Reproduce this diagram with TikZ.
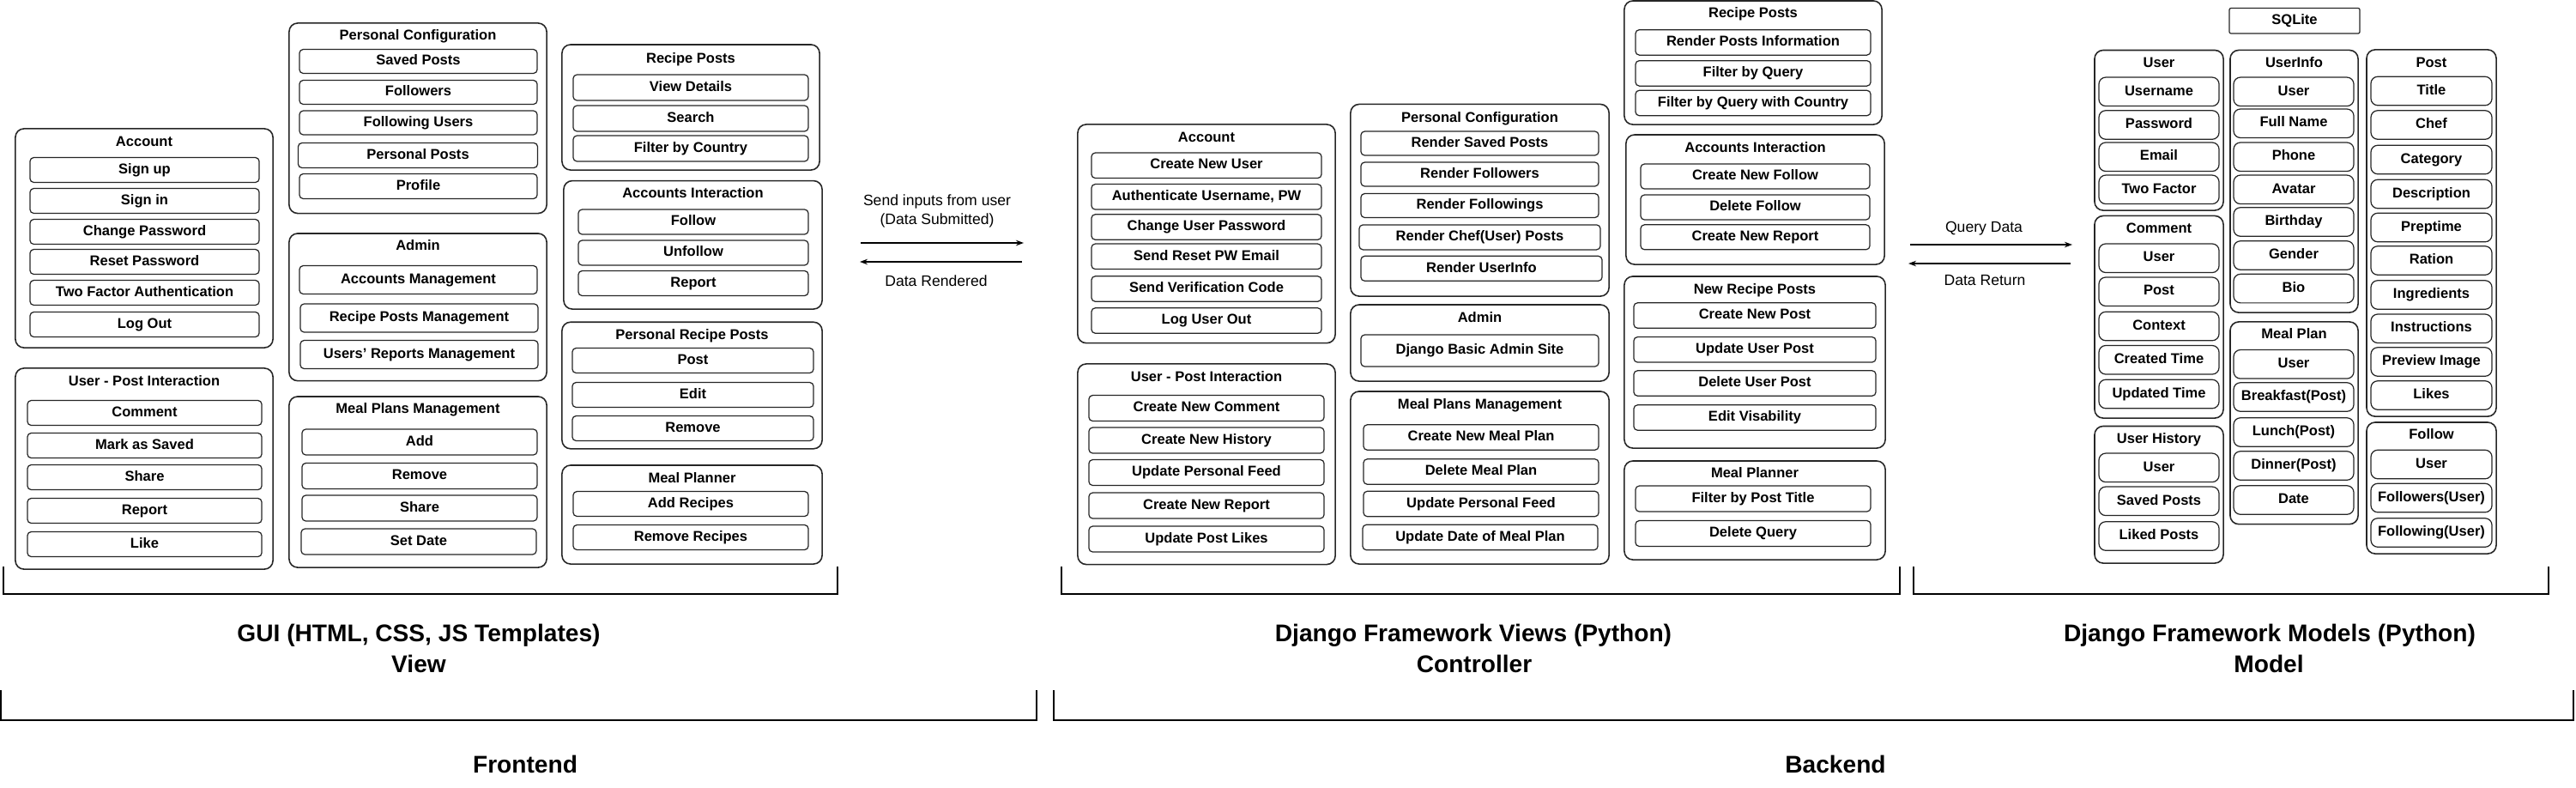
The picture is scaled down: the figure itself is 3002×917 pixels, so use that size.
\documentclass[tikz,border=0pt]{standalone}
\usepackage{fontspec}
\setmainfont{Liberation Sans}
\usetikzlibrary{arrows.meta}
\begin{document}
\begin{tikzpicture}[x=0.01cm,y=-0.01cm]
	\tikzstyle{every node}+=[inner sep=0pt]
	\tikzstyle{grp}=[draw=black!85, line width=0.45pt, rounded corners=0.1cm]
	\tikzstyle{itm}=[draw=black!85, line width=0.35pt, rounded corners=0.045cm, minimum height=0.29cm, text height=3.4pt, text depth=1pt, font=\fontsize{4.7}{5.6}\selectfont\bfseries]
	\tikzstyle{fld}=[itm, rounded corners=0.08cm, minimum height=0.335cm]
	\tikzstyle{ttl}=[text height=3.4pt, text depth=1pt, font=\fontsize{4.7}{5.6}\selectfont\bfseries]
	\tikzstyle{lbl}=[font=\fontsize{5}{6}\selectfont]
	\tikzstyle{big}=[font=\fontsize{8}{9.6}\selectfont\bfseries]
	\tikzstyle{brk}=[line width=0.6pt]
	\tikzstyle{flow}=[line width=0.35pt, -{Stealth[length=0.09cm,width=0.065cm]}]
	\useasboundingbox (0,0) rectangle (3002,917);
	% View
	\node [grp, minimum width=3cm, minimum height=2.55cm] (vAcc) at (168,277.5) {};
	\node [ttl] (vAccT) at (168,166) {Account};
	\node [itm, minimum width=2.67cm] (vAcc1) at (168.5,198) {Sign up};
	\node [itm, minimum width=2.67cm] (vAcc2) at (168.5,234) {Sign in};
	\node [itm, minimum width=2.67cm] (vAcc3) at (168.5,270) {Change Password};
	\node [itm, minimum width=2.67cm] (vAcc4) at (168.5,305) {Reset Password};
	\node [itm, minimum width=2.67cm] (vAcc5) at (168.5,341) {Two Factor Authentication};
	\node [itm, minimum width=2.67cm] (vAcc6) at (168.5,378) {Log Out};
	\node [grp, minimum width=3cm, minimum height=2.34cm] (vUpi) at (168,546) {};
	\node [ttl] (vUpiT) at (168,445) {User - Post Interaction};
	\node [itm, minimum width=2.73cm] (vUpi1) at (168.5,481) {Comment};
	\node [itm, minimum width=2.73cm] (vUpi2) at (168.5,519) {Mark as Saved};
	\node [itm, minimum width=2.73cm] (vUpi3) at (168.5,556) {Share};
	\node [itm, minimum width=2.73cm] (vUpi4) at (168.5,595) {Report};
	\node [itm, minimum width=2.73cm] (vUpi5) at (168.5,634) {Like};
	\node [grp, minimum width=3cm, minimum height=2.215cm] (vPc) at (487,137.75) {};
	\node [ttl] (vPcT) at (487,42) {Personal Configuration};
	\node [itm, minimum width=2.77cm, minimum height=0.28cm] (vPc1) at (487.5,71.5) {Saved Posts};
	\node [itm, minimum width=2.77cm, minimum height=0.28cm] (vPc2) at (487.5,107.5) {Followers};
	\node [itm, minimum width=2.77cm, minimum height=0.28cm] (vPc3) at (487.5,143) {Following Users};
	\node [itm, minimum width=2.79cm, minimum height=0.29cm] (vPc4) at (487,181) {Personal Posts};
	\node [itm, minimum width=2.77cm, minimum height=0.29cm] (vPc5) at (487.5,217) {Profile};
	\node [grp, minimum width=3cm, minimum height=1.716cm] (vAdm) at (487,357.8) {};
	\node [ttl] (vAdmT) at (487,287.5) {Admin};
	\node [itm, minimum width=2.77cm, minimum height=0.33cm] (vAdm1) at (487.5,326) {Accounts Management};
	\node [itm, minimum width=2.77cm, minimum height=0.33cm] (vAdm2) at (488.5,370.5) {Recipe Posts Management};
	\node [itm, minimum width=2.77cm, minimum height=0.33cm] (vAdm3) at (488.5,413) {Users' Reports Management};
	\node [grp, minimum width=3cm, minimum height=1.99cm] (vMpm) at (487,561.5) {};
	\node [ttl] (vMpmT) at (487,477) {Meal Plans Management};
	\node [itm, minimum width=2.74cm, minimum height=0.3cm] (vMpm1) at (489,515) {Add};
	\node [itm, minimum width=2.74cm, minimum height=0.3cm] (vMpm2) at (489,554.5) {Remove};
	\node [itm, minimum width=2.74cm, minimum height=0.3cm] (vMpm3) at (489,592) {Share};
	\node [itm, minimum width=2.74cm, minimum height=0.3cm] (vMpm4) at (488,631) {Set Date};
	\node [grp, minimum width=3cm, minimum height=1.46cm] (vRp) at (805,125) {};
	\node [ttl] (vRpT) at (805,69) {Recipe Posts};
	\node [itm, minimum width=2.74cm, minimum height=0.3cm] (vRp1) at (805,102) {View Details};
	\node [itm, minimum width=2.74cm, minimum height=0.3cm] (vRp2) at (805,138) {Search};
	\node [itm, minimum width=2.74cm, minimum height=0.3cm] (vRp3) at (805,173) {Filter by Country};
	\node [grp, minimum width=3.01cm, minimum height=1.494cm] (vAi) at (807.5,285.3) {};
	\node [ttl] (vAiT) at (807.5,226) {Accounts Interaction};
	\node [itm, minimum width=2.68cm] (vAi1) at (808,258.5) {Follow};
	\node [itm, minimum width=2.68cm] (vAi2) at (808,294.5) {Unfollow};
	\node [itm, minimum width=2.68cm] (vAi3) at (808,330) {Report};
	\node [grp, minimum width=3.03cm, minimum height=1.475cm] (vPrp) at (806.5,449) {};
	\node [ttl] (vPrpT) at (806.5,391) {Personal Recipe Posts};
	\node [itm, minimum width=2.81cm] (vPrp1) at (807.5,420) {Post};
	\node [itm, minimum width=2.81cm] (vPrp2) at (807.5,460) {Edit};
	\node [itm, minimum width=2.81cm] (vPrp3) at (807.5,499) {Remove};
	\node [grp, minimum width=3.03cm, minimum height=1.15cm] (vMp) at (806.5,599.5) {};
	\node [ttl] (vMpT) at (806.5,558) {Meal Planner};
	\node [itm, minimum width=2.74cm] (vMp1) at (805,587) {Add Recipes};
	\node [itm, minimum width=2.74cm] (vMp2) at (805,626) {Remove Recipes};
	% View <-> Controller
	\coordinate (in1) at (1003,283);
	\coordinate (in2) at (1193,283);
	\coordinate (out1) at (1191,305);
	\coordinate (out2) at (1002,305);
	\draw [flow] (in1) -- (in2);
	\draw [flow] (out1) -- (out2);
	\node [lbl] (sendL) at (1092,235) {Send inputs from user};
	\node [lbl] (subL) at (1092,257) {(Data Submitted)};
	\node [lbl] (rendL) at (1091,327) {Data Rendered};
	% Controller
	\node [grp, minimum width=3cm, minimum height=2.546cm] (cAcc) at (1406,272.3) {};
	\node [ttl] (cAccT) at (1406,161) {Account};
	\node [itm, minimum width=2.68cm, minimum height=0.295cm] (cAcc1) at (1406,192.75) {Create New User};
	\node [itm, minimum width=2.68cm, minimum height=0.295cm] (cAcc2) at (1406,229.3) {Authenticate Username, PW};
	\node [itm, minimum width=2.68cm, minimum height=0.295cm] (cAcc3) at (1406,264.5) {Change User Password};
	\node [itm, minimum width=2.68cm, minimum height=0.295cm] (cAcc4) at (1406,298.8) {Send Reset PW Email};
	\node [itm, minimum width=2.68cm, minimum height=0.295cm] (cAcc5) at (1406,336.5) {Send Verification Code};
	\node [itm, minimum width=2.68cm, minimum height=0.295cm] (cAcc6) at (1406,373.5) {Log User Out};
	\node [grp, minimum width=3cm, minimum height=2.335cm] (cUpi) at (1406,540.75) {};
	\node [ttl] (cUpiT) at (1406,440) {User - Post Interaction};
	\node [itm, minimum width=2.74cm, minimum height=0.3cm] (cUpi1) at (1406,475.5) {Create New Comment};
	\node [itm, minimum width=2.74cm, minimum height=0.3cm] (cUpi2) at (1406,513) {Create New History};
	\node [itm, minimum width=2.74cm, minimum height=0.3cm] (cUpi3) at (1406,550.5) {Update Personal Feed};
	\node [itm, minimum width=2.74cm, minimum height=0.3cm] (cUpi4) at (1406,589) {Create New Report};
	\node [itm, minimum width=2.74cm, minimum height=0.3cm] (cUpi5) at (1406,628) {Update Post Likes};
	\node [grp, minimum width=3.01cm, minimum height=2.235cm] (cPc) at (1724.5,233.25) {};
	\node [ttl] (cPcT) at (1724.5,138) {Personal Configuration};
	\node [itm, minimum width=2.77cm, minimum height=0.28cm] (cPc1) at (1724.5,167) {Render Saved Posts};
	\node [itm, minimum width=2.77cm, minimum height=0.28cm] (cPc2) at (1724.5,203) {Render Followers};
	\node [itm, minimum width=2.77cm, minimum height=0.28cm] (cPc3) at (1724.5,239.5) {Render Followings};
	\node [itm, minimum width=2.81cm, minimum height=0.29cm] (cPc4) at (1724.5,276.4) {Render Chef(User) Posts};
	\node [itm, minimum width=2.81cm, minimum height=0.29cm] (cPc5) at (1726.5,312.8) {Render UserInfo};
	\node [grp, minimum width=3.01cm, minimum height=0.89cm] (cAdm) at (1724.5,399.5) {};
	\node [ttl] (cAdmT) at (1724.5,371) {Admin};
	\node [itm, minimum width=2.77cm, minimum height=0.37cm] (cAdm1) at (1724.5,408.5) {Django Basic Admin Site};
	\node [grp, minimum width=3.01cm, minimum height=2.01cm] (cMpm) at (1724.5,556.5) {};
	\node [ttl] (cMpmT) at (1724.5,472) {Meal Plans Management};
	\node [itm, minimum width=2.74cm, minimum height=0.295cm] (cMpm1) at (1726,509.5) {Create New Meal Plan};
	\node [itm, minimum width=2.74cm, minimum height=0.295cm] (cMpm2) at (1726,549.5) {Delete Meal Plan};
	\node [itm, minimum width=2.74cm, minimum height=0.295cm] (cMpm3) at (1726,587) {Update Personal Feed};
	\node [itm, minimum width=2.74cm, minimum height=0.295cm] (cMpm4) at (1725,626) {Update Date of Meal Plan};
	\node [grp, minimum width=3cm, minimum height=1.44cm] (cRp) at (2043,73) {};
	\node [ttl] (cRpT) at (2043,16.5) {Recipe Posts};
	\node [itm, minimum width=2.74cm, minimum height=0.295cm] (cRp1) at (2043,49.4) {Render Posts Information};
	\node [itm, minimum width=2.74cm, minimum height=0.295cm] (cRp2) at (2043,85.4) {Filter by Query};
	\node [itm, minimum width=2.74cm, minimum height=0.295cm] (cRp3) at (2043,120) {Filter by Query with Country};
	\node [grp, minimum width=3.01cm, minimum height=1.51cm] (cAi) at (2045.5,232.5) {};
	\node [ttl] (cAiT) at (2045.5,173.5) {Accounts Interaction};
	\node [itm, minimum width=2.67cm] (cAi1) at (2045.5,205.5) {Create New Follow};
	\node [itm, minimum width=2.67cm] (cAi2) at (2045.5,241.5) {Delete Follow};
	\node [itm, minimum width=2.67cm] (cAi3) at (2045.5,276.3) {Create New Report};
	\node [grp, minimum width=3.04cm, minimum height=2cm] (cNrp) at (2045,422) {};
	\node [ttl] (cNrpT) at (2045,338) {New Recipe Posts};
	\node [itm, minimum width=2.82cm, minimum height=0.295cm] (cNrp1) at (2045,367.5) {Create New Post};
	\node [itm, minimum width=2.82cm, minimum height=0.295cm] (cNrp2) at (2045,407.3) {Update User Post};
	\node [itm, minimum width=2.82cm, minimum height=0.295cm] (cNrp3) at (2045,446.5) {Delete User Post};
	\node [itm, minimum width=2.82cm, minimum height=0.295cm] (cNrp4) at (2045,486.5) {Edit Visability};
	\node [grp, minimum width=3.04cm, minimum height=1.15cm] (cMp) at (2045,594.5) {};
	\node [ttl] (cMpT) at (2045,552) {Meal Planner};
	\node [itm, minimum width=2.74cm, minimum height=0.3cm] (cMp1) at (2043,581) {Filter by Post Title};
	\node [itm, minimum width=2.74cm, minimum height=0.3cm] (cMp2) at (2043,621.5) {Delete Query};
	% Controller <-> Model
	\coordinate (qd1) at (2226,285);
	\coordinate (qd2) at (2415,285);
	\coordinate (dr1) at (2413,307);
	\coordinate (dr2) at (2224,307);
	\draw [flow] (qd1) -- (qd2);
	\draw [flow] (dr1) -- (dr2);
	\node [lbl] (qdL) at (2312,266) {Query Data};
	\node [lbl] (drL) at (2313,327) {Data Return};
	% Model
	\node [itm, rounded corners=0.02cm, minimum width=1.52cm, minimum height=0.295cm, font=\fontsize{4.7}{5.6}\selectfont\bfseries] (sql) at (2674,24.25) {SQLite};
	\node [grp, minimum width=1.5cm, minimum height=1.865cm] (mUser) at (2516,151.75) {};
	\node [ttl] (mUserT) at (2516,74) {User};
	\node [fld, minimum width=1.4cm] (mUser1) at (2516,106.8) {Username};
	\node [fld, minimum width=1.4cm] (mUser2) at (2516,145.5) {Password};
	\node [fld, minimum width=1.4cm] (mUser3) at (2516,182.75) {Email};
	\node [fld, minimum width=1.4cm] (mUser4) at (2516,220.8) {Two Factor};
	\node [grp, minimum width=1.5cm, minimum height=2.355cm] (mCom) at (2516,369.25) {};
	\node [ttl] (mComT) at (2516,267) {Comment};
	\node [fld, minimum width=1.4cm] (mCom1) at (2516,300.75) {User};
	\node [fld, minimum width=1.4cm] (mCom2) at (2516,339.75) {Post};
	\node [fld, minimum width=1.4cm] (mCom3) at (2516,380) {Context};
	\node [fld, minimum width=1.4cm] (mCom4) at (2516,419.25) {Created Time};
	\node [fld, minimum width=1.4cm] (mCom5) at (2516,459) {Updated Time};
	\node [grp, minimum width=1.5cm, minimum height=1.595cm] (mHist) at (2516,576.25) {};
	\node [ttl] (mHistT) at (2516,512) {User History};
	\node [fld, minimum width=1.4cm] (mHist1) at (2516,544.8) {User};
	\node [fld, minimum width=1.4cm] (mHist2) at (2516,583.8) {Saved Posts};
	\node [fld, minimum width=1.4cm] (mHist3) at (2516,624.5) {Liked Posts};
	\node [grp, minimum width=1.49cm, minimum height=3.055cm] (mInfo) at (2673.5,211.25) {};
	\node [ttl] (mInfoT) at (2673.5,74) {UserInfo};
	\node [fld, minimum width=1.4cm] (mInfo1) at (2673,106.8) {User};
	\node [fld, minimum width=1.4cm] (mInfo2) at (2673,143.75) {Full Name};
	\node [fld, minimum width=1.4cm] (mInfo3) at (2673,182.75) {Phone};
	\node [fld, minimum width=1.4cm] (mInfo4) at (2673,220.8) {Avatar};
	\node [fld, minimum width=1.4cm] (mInfo5) at (2673,258.5) {Birthday};
	\node [fld, minimum width=1.4cm] (mInfo6) at (2673,297.5) {Gender};
	\node [fld, minimum width=1.4cm] (mInfo7) at (2673,336.1) {Bio};
	\node [grp, minimum width=1.49cm, minimum height=2.356cm] (mPlan) at (2673.5,492.8) {};
	\node [ttl] (mPlanT) at (2673.5,390) {Meal Plan};
	\node [fld, minimum width=1.4cm] (mPlan1) at (2673,424.3) {User};
	\node [fld, minimum width=1.4cm] (mPlan2) at (2673,462.5) {Breakfast(Post)};
	\node [fld, minimum width=1.4cm] (mPlan3) at (2673,503.5) {Lunch(Post)};
	\node [fld, minimum width=1.4cm] (mPlan4) at (2673,542.5) {Dinner(Post)};
	\node [fld, minimum width=1.4cm] (mPlan5) at (2673,582.5) {Date};
	\node [grp, minimum width=1.51cm, minimum height=4.27cm] (mPost) at (2833.5,271.5) {};
	\node [ttl] (mPostT) at (2833.5,74) {Post};
	\node [fld, minimum width=1.41cm] (mPost1) at (2833.5,106) {Title};
	\node [fld, minimum width=1.41cm] (mPost2) at (2833.5,145.5) {Chef};
	\node [fld, minimum width=1.41cm] (mPost3) at (2833.5,186) {Category};
	\node [fld, minimum width=1.41cm] (mPost4) at (2833.5,226) {Description};
	\node [fld, minimum width=1.41cm] (mPost5) at (2833.5,265) {Preptime};
	\node [fld, minimum width=1.41cm] (mPost6) at (2833.5,303.5) {Ration};
	\node [fld, minimum width=1.41cm] (mPost7) at (2833.5,343.5) {Ingredients};
	\node [fld, minimum width=1.41cm] (mPost8) at (2833.5,382.75) {Instructions};
	\node [fld, minimum width=1.41cm] (mPost9) at (2833.5,421.5) {Preview Image};
	\node [fld, minimum width=1.41cm] (mPost10) at (2833.5,460.5) {Likes};
	\node [grp, minimum width=1.51cm, minimum height=1.53cm] (mFol) at (2833.5,568.5) {};
	\node [ttl] (mFolT) at (2833.5,507) {Follow};
	\node [fld, minimum width=1.41cm] (mFol1) at (2833.5,541) {User};
	\node [fld, minimum width=1.41cm] (mFol2) at (2833.5,580) {Followers(User)};
	\node [fld, minimum width=1.41cm] (mFol3) at (2833.5,620.5) {Following(User)};
	% brackets
	\draw [brk] (4,660) -- (4,692) -- (976,692) -- (976,660);
	\draw [brk] (1237,660) -- (1237,692) -- (2214,692) -- (2214,660);
	\draw [brk] (2230,660) -- (2230,692) -- (2970,692) -- (2970,660);
	\draw [brk] (1,804) -- (1,839) -- (1208,839) -- (1208,804);
	\draw [brk] (1228,804) -- (1228,839) -- (2999,839) -- (2999,804);
	\node [big] (guiL) at (488,740) {GUI (HTML, CSS, JS Templates)};
	\node [big] (viewL) at (488,773) {View};
	\node [big] (djvL) at (1717,740) {Django Framework Views (Python)};
	\node [big] (ctrlL) at (1718,773) {Controller};
	\node [big] (djmL) at (2645,740) {Django Framework Models (Python)};
	\node [big] (modL) at (2644,773) {Model};
	\node [big] (feL) at (612,890) {Frontend};
	\node [big] (beL) at (2139,890) {Backend};
\end{tikzpicture}
\end{document}
